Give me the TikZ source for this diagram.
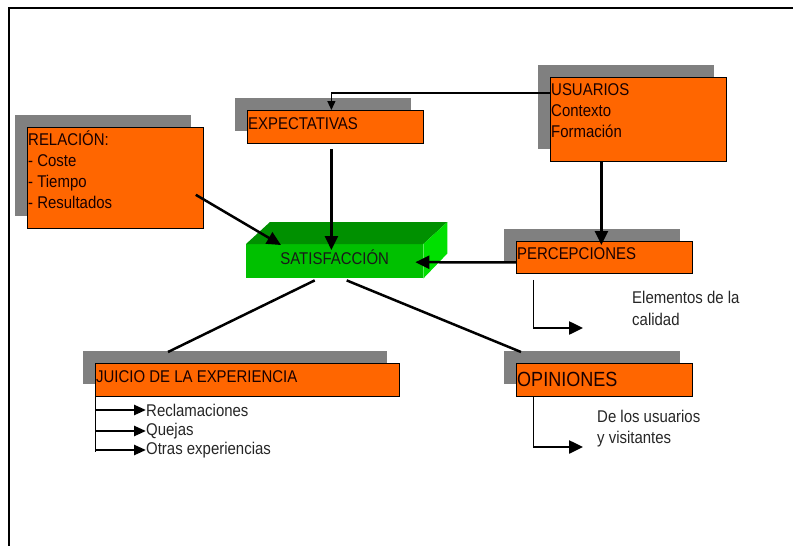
\documentclass[tikz,border=0pt]{standalone}
\usepackage{fontspec}
\setmainfont{Liberation Sans}[FakeStretch=0.88]
\usetikzlibrary{arrows.meta,shadows}
\definecolor{boxorange}{HTML}{FF6600}
\definecolor{shadowgray}{HTML}{808080}
\definecolor{satfront}{HTML}{00C000}
\definecolor{sattop}{HTML}{009000}
\definecolor{satside}{HTML}{00E000}
\tikzset{
  box/.style={draw=black, line width=0.8pt, fill=boxorange, inner sep=0pt, anchor=north west,
    drop shadow={shadow xshift=-12pt, shadow yshift=12pt, fill=shadowgray, opacity=1}},
  boxtext/.style={anchor=base west, align=left, inner sep=0pt, text=black!90!red, font=\fontsize{17}{21}\selectfont},
  sidetext/.style={anchor=base west, align=left, inner sep=0pt, text=black!85, font=\fontsize{17}{21}\selectfont},
  bigarrow/.style={line width=2.5pt, -{Triangle[length=14pt,width=13pt]}},
  listarrow/.style={line width=2.5pt, -{Triangle[length=12pt,width=10pt]}},
  thinarrow/.style={line width=1.2pt, -{Triangle[length=9pt,width=8pt]}},
  link/.style={line width=2.5pt},
  stem/.style={line width=1pt},
}
\begin{document}
\begin{tikzpicture}[x=1pt,y=-1pt]
    \useasboundingbox (0,0) rectangle (793,546);
    \draw[line width=1.2pt] (793,8) -- (9,8) -- (9,546);
    % boxes
    \node[box, minimum width=176pt, minimum height=84pt] (usuarios) at (550,77) {};
    \node[boxtext] (usuariostxt) at ([shift={(1,60)}]usuarios.north west) {USUARIOS\\Contexto\\Formación};
    \node[box, minimum width=176pt, minimum height=33pt] (expect) at (247,110) {};
    \node[boxtext] (expecttxt) at ([shift={(1,19)}]expect.north west) {EXPECTATIVAS};
    \node[box, minimum width=176pt, minimum height=101pt] (relacion) at (27,127) {};
    \node[boxtext] (relaciontxt) at ([shift={(1,81)}]relacion.north west) {RELACIÓN:\\- Coste\\- Tiempo\\- Resultados};
    \node[box, minimum width=176pt, minimum height=32pt] (percep) at (516,241) {};
    \node[boxtext] (perceptxt) at ([shift={(1,18)}]percep.north west) {PERCEPCIONES};
    \node[box, minimum width=304pt, minimum height=33pt] (juicio) at (95,363) {};
    \node[boxtext] (juiciotxt) at ([shift={(1,19)}]juicio.north west) {JUICIO DE LA EXPERIENCIA};
    \node[box, minimum width=176pt, minimum height=33pt] (opin) at (516,363) {};
    \node[boxtext, font=\fontsize{20.5}{21}\selectfont] (opintxt) at ([shift={(1,23)}]opin.north west) {OPINIONES};
    % green block
    \node[fill=satfront, minimum width=177pt, minimum height=34pt, inner sep=0pt, anchor=north west,
      text height=12pt, text depth=6pt, text=black!90, font=\fontsize{17}{21}\selectfont] (satis) at (246,244) {SATISFACCIÓN};
    \fill[sattop] (satis.north west) -- ++(24,-22) -- ([shift={(24,-22)}]satis.north east) -- (satis.north east) -- cycle;
    \fill[satside] (satis.north east) -- ++(24,-22) -- ([shift={(24,-25)}]satis.south east) -- (satis.south east) -- cycle;
    % side texts
    \node[sidetext, font=\fontsize{17}{22}\selectfont] (calidad) at (632,325) {Elementos de la\\calidad};
    \node[sidetext] (visit) at (597,443) {De los usuarios\\y visitantes};
    \node[sidetext, anchor=west] (reclam) at (146,410) {Reclamaciones};
    \node[sidetext, anchor=west] (quejas) at (146,431) {Quejas};
    \node[sidetext, anchor=west] (otras) at (146,450) {Otras experiencias};
    \coordinate (calidadcorner) at (533,328);
    \coordinate (calidadtip) at (583,328);
    \coordinate (visitcorner) at (533,447);
    \coordinate (visittip) at (583,447);
    % connectors
    \draw[thinarrow] ([shift={(0,16)}]usuarios.north west) -| ([shift={(-4,0)}]expect.north);
    \draw[bigarrow] ([shift={(-4,5)}]expect.south) -- ([shift={(-4,6)}]expect.south |- satis.north);
    \draw[bigarrow] ([shift={(-8,-34)}]relacion.south east) -- ([shift={(35,1)}]satis.north west);
    \draw[bigarrow] ([shift={(-37,0)}]usuarios.south) -- ([shift={(-37,4)}]usuarios.south |- percep.north);
    \draw[bigarrow] ([shift={(0,5)}]percep.west) -- ([shift={(-8,1)}]satis.east);
    \draw[link] ([shift={(-20,2)}]satis.south) -- ([shift={(73,-11)}]juicio.north west);
    \draw[link] ([shift={(12,2)}]satis.south) -- ([shift={(5,-11)}]opin.north west);
    \draw[stem] ([shift={(17,6)}]percep.south west) -- (calidadcorner);
    \draw[bigarrow] (calidadcorner) -- (calidadtip);
    \draw[stem] ([shift={(17,0)}]opin.south west) -- (visitcorner);
    \draw[bigarrow] (visitcorner) -- (visittip);
    \draw[stem] (juicio.south west) -- ([shift={(0,2)}]juicio.south west |- otras.west);
    \foreach \item in {reclam,quejas,otras}
        \draw[listarrow] (juicio.south west |- \item.west) -- (\item.west);
\end{tikzpicture}
\end{document}
